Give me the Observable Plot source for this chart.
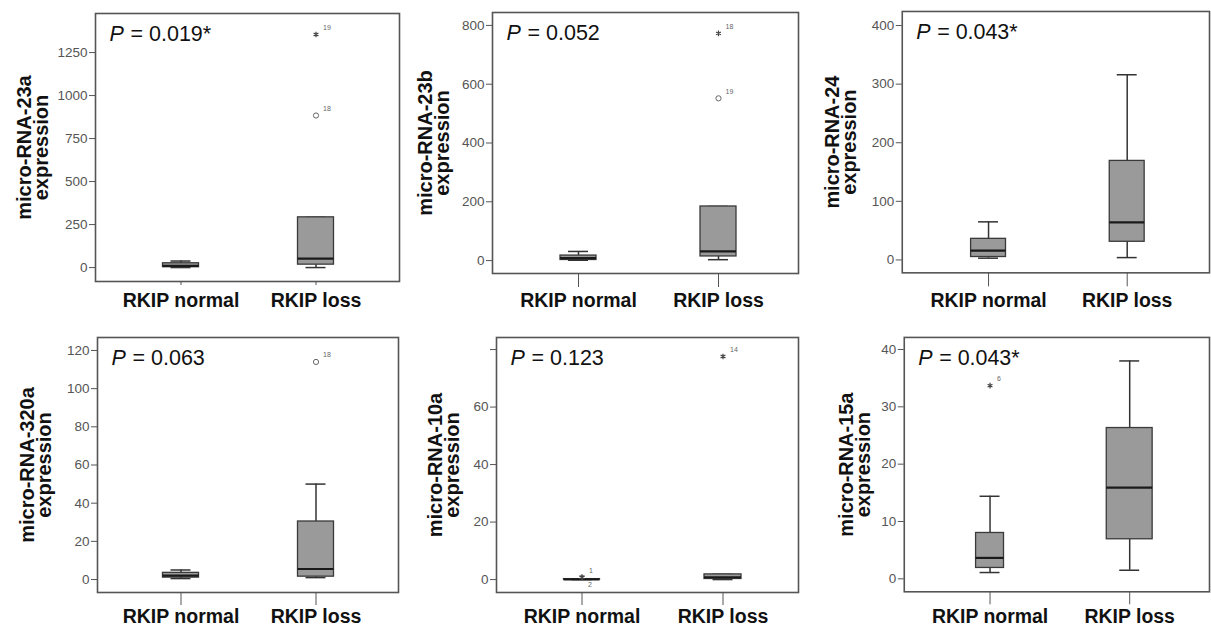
<!DOCTYPE html>
<html><head><meta charset="utf-8">
<script src="https://cdn.jsdelivr.net/npm/d3@7"></script>
<script src="https://cdn.jsdelivr.net/npm/@observablehq/plot@0.6"></script>
<style>
html,body{margin:0;padding:0;background:#fff;}
#wrap{position:relative;width:1211px;height:627px;overflow:hidden;background:#fff;font-family:"Liberation Sans",Arial,sans-serif;}
.panel{position:absolute;}
.panel svg{overflow:visible;background:transparent;}
g[aria-label="x-axis tick label"]{font-weight:bold;fill:#111;}
g[aria-label="y-axis tick label"]{fill:#555;}
</style></head><body><div id="wrap"></div>
<script>
// ---- data ----
const genes = ["micro-RNA-23a","micro-RNA-23b","micro-RNA-24","micro-RNA-320a","micro-RNA-10a","micro-RNA-15a"];
const pValues = ["0.019*","0.052","0.043*","0.063","0.123","0.043*"];
const groups = ["RKIP normal","RKIP loss"];
// box statistics per panel: [RKIP normal, RKIP loss]
const whiskerLow  = [[0,0],[1,3],[3,4],[0.5,1],[0,0],[1.1,1.5]];
const q1          = [[2,17],[2,14],[5,31],[1,1.5],[0,0.2],[1.9,6.9]];
const median      = [[10,52],[8,31],[16,64],[2,5.5],[0.05,0.8],[3.65,15.9]];
const q3          = [[25,292],[17,184],[36,169],[3.5,30.4],[0.15,1.8],[8,26.3]];
const whiskerHigh = [[38,292],[31,184],[65,316],[5,50],[0.15,1.8],[14.4,38]];
const outliers = [
  [{group:"RKIP loss", value:1355, kind:"*", label:"19"}, {group:"RKIP loss", value:884, kind:"o", label:"18"}],
  [{group:"RKIP loss", value:773, kind:"*", label:"18"}, {group:"RKIP loss", value:552, kind:"o", label:"19"}],
  [],
  [{group:"RKIP loss", value:114, kind:"o", label:"18"}],
  [{group:"RKIP normal", value:0.8, kind:"*", label:"1"}, {group:"RKIP normal", value:0.8, kind:"*", label:"2"},
   {group:"RKIP loss", value:77.6, kind:"*", label:"14"}],
  [{group:"RKIP normal", value:33.7, kind:"*", label:"6"}]
];
const yTicks = [[0,250,500,750,1000,1250],[0,200,400,600,800],[0,100,200,300,400],[0,20,40,60,80,100,120],[0,20,40,60,80],[0,10,20,30,40]];
const yTickLabels = [["0","250","500","750","1000","1250"],["0","200","400","600","800"],["0","100","200","300","400"],
  ["0","20","40","60","80","100","120"],["0","20","40","60",""],["0","10","20","30","40"]];
const yDomains = [[-81,1477],[-44,844],[-22,424],[-6.8,126.8],[-4.5,84.2],[-2.26,42.1]];

// ---- layout (page pixels) ----
const layout = [
  {fl:95,  ft:13,  fr:399,  fb:281, row:0, c:[85,220], tick:4,  pad:8, tdx:-61, box:[36,36]},
  {fl:492, ft:12,  fr:798,  fb:273, row:0, c:[86,226], tick:14, pad:6, tdx:-57, box:[36,36]},
  {fl:902, ft:11,  fr:1210, fb:273, row:0, c:[86,225], tick:14, pad:6, tdx:-60, box:[35,35]},
  {fl:97,  ft:337, fr:398,  fb:592, row:1, c:[83,218], tick:13, pad:4, tdx:-60, box:[36,36]},
  {fl:496, ft:337, fr:798,  fb:592, row:1, c:[85,226], tick:13, pad:4, tdx:-51, box:[36,37]},
  {fl:904, ft:337, fr:1210, fb:592, row:1, c:[86,226], tick:13, pad:4, tdx:-48, box:[28,46]}
];
const ML = 100, MR = 2, MB = 40;
const wrap = document.getElementById("wrap");

genes.forEach((gene, i) => {
  const L = layout[i];
  const svgTop = L.row === 0 ? 0 : 310;
  const fw = L.fr - L.fl, fh = L.fb - L.ft;
  const mt = L.ft - svgTop;
  const s = L.c[1] - L.c[0];
  const stats = groups.map((g, k) => ({group: g, low: whiskerLow[i][k], q1: q1[i][k], med: median[i][k], q3: q3[i][k], high: whiskerHigh[i][k]}));
  const labelMap = new Map(yTicks[i].map((t, k) => [t, yTickLabels[i][k]]));
  const marks = [];
  stats.forEach((d, k) => {
    const inset = (s - L.box[k]) / 2;
    const capInset = (s - 20) / 2;
    marks.push(
      Plot.ruleX([d], {x: "group", y1: "low", y2: "q1", stroke: "#333", strokeWidth: 1.5}),
      Plot.ruleX([d], {x: "group", y1: "q3", y2: "high", stroke: "#333", strokeWidth: 1.5}),
      Plot.tickY([d], {x: "group", y: "low", stroke: "#333", strokeWidth: 1.5, insetLeft: capInset, insetRight: capInset}),
      Plot.tickY([d], {x: "group", y: "high", stroke: "#333", strokeWidth: 1.5, insetLeft: capInset, insetRight: capInset}),
      Plot.barY([d], {x: "group", y1: "q1", y2: "q3", fill: "#9a9a9a", stroke: "#3a3a3a", strokeWidth: 1.3, insetLeft: inset, insetRight: inset}),
      Plot.tickY([d], {x: "group", y: "med", stroke: "#1a1a1a", strokeWidth: 2.2, insetLeft: inset, insetRight: inset})
    );
  });
  const outs = outliers[i];
  const seen = new Set();
  const outLabels = outs.map(o => {
    const key = o.group + o.value;
    const below = seen.has(key); seen.add(key);
    return {...o, below};
  });
  marks.push(
    Plot.dot(outs.filter(o => o.kind === "o"), {x: "group", y: "value", r: 2.6, stroke: "#666", fill: "none", strokeWidth: 1}),
    Plot.dot(outs.filter(o => o.kind === "*"), {x: "group", y: "value", r: 2.6, symbol: "asterisk", stroke: "#444", strokeWidth: 1.2}),
    Plot.text(outLabels.filter(o => !o.below), {x: "group", y: "value", text: "label", dx: 7, dy: -7, fontSize: 7, fill: "#666", textAnchor: "start"}),
    Plot.text(outLabels.filter(o => o.below), {x: "group", y: "value", text: "label", dx: 6, dy: 7, fontSize: 7, fill: "#666", textAnchor: "start"}),
    Plot.frame({stroke: "#555", strokeWidth: 1.6}),
    Plot.axisY({ticks: yTicks[i], tickFormat: d => labelMap.get(d), tickSize: 6, tickPadding: 2, fontSize: 13.5, stroke: "#555", label: null}),
    Plot.axisX({tickSize: L.tick, tickPadding: L.pad, fontSize: 19.5, fontWeight: "bold", stroke: "#555", label: null}),
    Plot.text([gene + "\nexpression"], {frameAnchor: "left", text: d => d, rotate: -90, dx: L.tdx, fontSize: 20, fontWeight: "bold", lineHeight: 0.85, textAnchor: "middle", lineAnchor: "middle", fill: "#111"}),
    Plot.text(["P"], {frameAnchor: "top-left", text: d => d, dx: 14, dy: 12, fontSize: 21.5, fontStyle: "italic", lineAnchor: "top", textAnchor: "start", fill: "#111"}),
    Plot.text(["= " + pValues[i]], {frameAnchor: "top-left", text: d => d, dx: 35, dy: 12, fontSize: 21.5, lineAnchor: "top", textAnchor: "start", fill: "#111"})
  );
  const chart = Plot.plot({
    width: ML + fw + MR,
    height: mt + fh + MB,
    marginLeft: ML, marginRight: MR, marginTop: mt, marginBottom: MB,
    style: {fontFamily: '"Liberation Sans", Arial, sans-serif', background: "transparent", overflow: "visible"},
    x: {type: "band", domain: groups, range: [ML + L.c[0] - s / 2, ML + L.c[1] + s / 2], padding: 0, label: null},
    y: {domain: yDomains[i], label: null},
    marks
  });
  const div = document.createElement("div");
  div.className = "panel";
  div.style.left = (L.fl - ML) + "px";
  div.style.top = svgTop + "px";
  div.appendChild(chart);
  wrap.appendChild(div);
});
</script></body></html>
